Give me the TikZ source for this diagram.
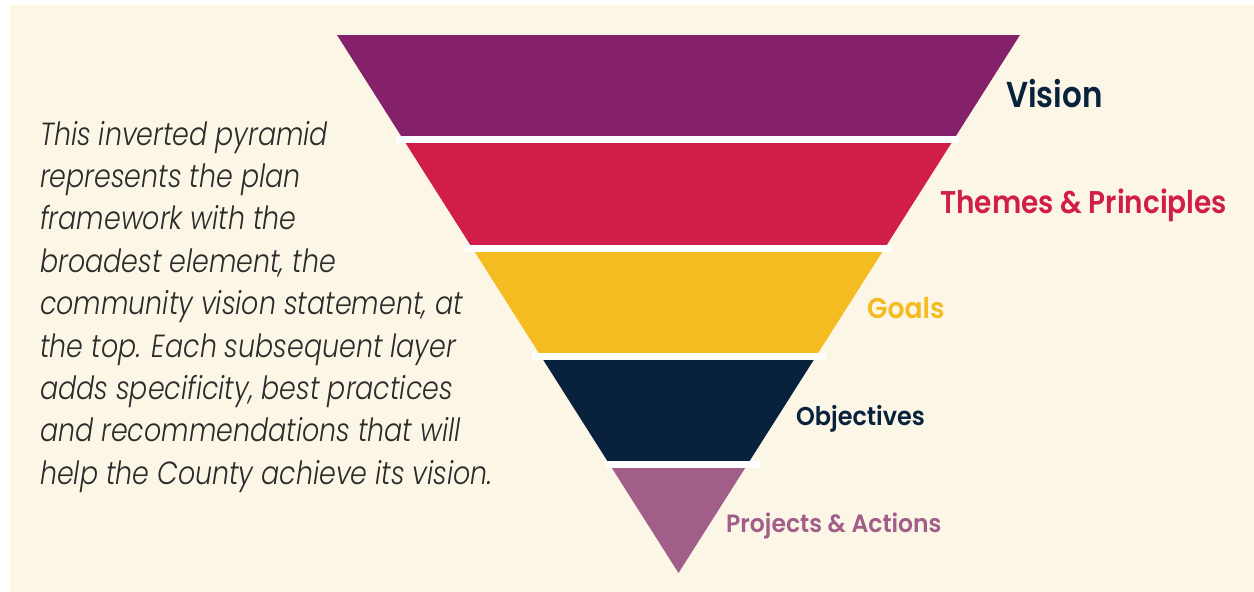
\documentclass[tikz,border=0pt]{standalone}
\usepackage{fontspec}
\newfontfamily\labfont{Poppins SemiBold}
\newfontfamily\parafont{Poppins Light Italic}[FakeStretch=0.84]
\definecolor{cream}{HTML}{FCF6E6}
\definecolor{cvision}{HTML}{85206A}
\definecolor{ctheme}{HTML}{D11D4A}
\definecolor{cgoal}{HTML}{F4BC21}
\definecolor{cobj}{HTML}{08223E}
\definecolor{cproj}{HTML}{A05E88}
\definecolor{ctext}{HTML}{2B2B2B}
\tikzset{
  lab/.style={anchor=base west, inner sep=0pt, font=\labfont},
  para/.style={anchor=base west, inner sep=0pt, font=\parafont\fontsize{32}{40}\selectfont, text=ctext},
  sepbar/.style={fill=white, draw=none}
}
\begin{document}
\begin{tikzpicture}[x=1pt,y=-1pt]
\useasboundingbox (0,0) rectangle (1254,592);
\fill[white] (0,0) rectangle (1254,592);
\fill[cream] (10,5) rectangle (1254,592);
% pyramid
\coordinate (TL) at (337,35);
\coordinate (TR) at (1020,35);
\coordinate (AP) at (678.5,573);
\begin{scope}
\clip (TL) -- (TR) -- (AP) -- cycle;
\fill[cvision] (330,30) rectangle (1030,139.5);
\fill[ctheme] (330,139.5) rectangle (1030,248.5);
\fill[cgoal] (330,248.5) rectangle (1030,356.5);
\fill[cobj] (330,356.5) rectangle (1030,464.5);
\fill[cproj] (330,464.5) rectangle (1030,580);
\end{scope}
\fill[sepbar] (396,136) rectangle (959,143);
\fill[sepbar] (464,245) rectangle (892,252);
\fill[sepbar] (532,353) rectangle (826,360);
\fill[sepbar] (605,461) rectangle (760,468);
% labels
\node[lab, text=cobj, font=\labfont\fontsize{36}{40}\selectfont] (lvision) at (1006,107) {\scalebox{0.86}[1]{Vision}};
\node[lab, text=ctheme, font=\labfont\fontsize{31.4}{36}\selectfont] (ltheme) at (940,213) {\scalebox{0.89}[1]{Themes \& Principles}};
\node[lab, text=cgoal, font=\labfont\fontsize{28.6}{32}\selectfont] (lgoal) at (867,318) {\scalebox{0.93}[1]{Goals}};
\node[lab, text=cobj, font=\labfont\fontsize{25.7}{30}\selectfont] (lobj) at (796,425) {\scalebox{0.93}[1]{Objectives}};
\node[lab, text=cproj, font=\labfont\fontsize{25}{30}\selectfont] (lproj) at (726,532.7) {\scalebox{0.94}[1]{Projects \& Actions}};
% paragraph
\node[para] (p1) at (40,145) {This inverted pyramid};
\node[para] (p2) at (40,187.4) {represents the plan};
\node[para] (p3) at (40,229.8) {framework with the};
\node[para] (p4) at (40,272.2) {broadest element, the};
\node[para] (p5) at (40,314.6) {community vision statement, at};
\node[para] (p6) at (40,357) {the top. Each subsequent layer};
\node[para] (p7) at (40,399.4) {adds specificity, best practices};
\node[para] (p8) at (40,441.8) {and recommendations that will};
\node[para] (p9) at (40,484.2) {help the County achieve its vision.};
\end{tikzpicture}
\end{document}
